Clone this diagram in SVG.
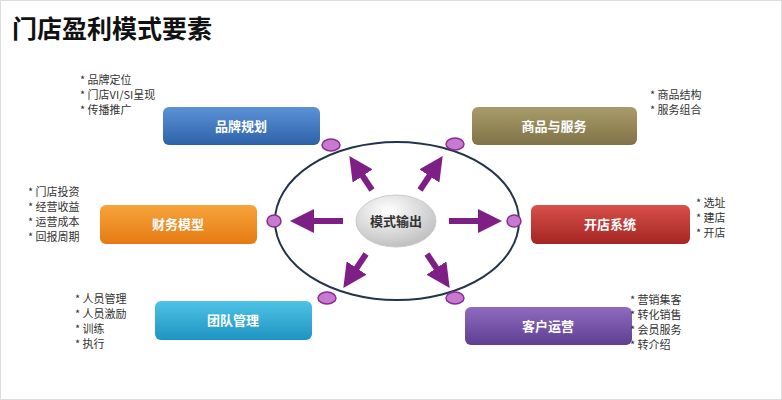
<svg xmlns="http://www.w3.org/2000/svg" width="782" height="400" viewBox="0 0 782 400">
<style>
text{font-family:"Noto Sans CJK SC","Liberation Sans",sans-serif}
.lb{font-size:13px;font-weight:bold;fill:#fff;text-anchor:middle}
.ls{font-size:11px;fill:#333}
.dot{fill:#c77bd0;stroke:#8a2c92;stroke-width:1.5}
.arr{stroke:#7e1f86;stroke-width:6;marker-end:url(#ah)}
</style>
<defs>
<marker id="ah" markerWidth="4" markerHeight="4" refX="2" refY="2" orient="auto"><path d="M0,0L4,2L0,4z" fill="#7e1f86"/></marker>
<linearGradient id="gb" x1="0" y1="0" x2="0" y2="1"><stop offset="0" stop-color="#5b92d6"/><stop offset="1" stop-color="#2e62a8"/></linearGradient>
<linearGradient id="go" x1="0" y1="0" x2="0" y2="1"><stop offset="0" stop-color="#a99c6a"/><stop offset="1" stop-color="#7f7348"/></linearGradient>
<linearGradient id="gor" x1="0" y1="0" x2="0" y2="1"><stop offset="0" stop-color="#f7a43c"/><stop offset="1" stop-color="#e67a12"/></linearGradient>
<linearGradient id="gr" x1="0" y1="0" x2="0" y2="1"><stop offset="0" stop-color="#d8504a"/><stop offset="1" stop-color="#a52522"/></linearGradient>
<linearGradient id="gc" x1="0" y1="0" x2="0" y2="1"><stop offset="0" stop-color="#4fc3e6"/><stop offset="1" stop-color="#1d94c2"/></linearGradient>
<linearGradient id="gp" x1="0" y1="0" x2="0" y2="1"><stop offset="0" stop-color="#8f6bbf"/><stop offset="1" stop-color="#5e3f92"/></linearGradient>
<radialGradient id="gg" cx="0.4" cy="0.3" r="0.8"><stop offset="0" stop-color="#ffffff"/><stop offset="1" stop-color="#b8b8b8"/></radialGradient>
</defs>
<rect x="0.5" y="0.5" width="781" height="399" fill="#fff" stroke="#ddd"/>
<text x="12" y="38" font-size="25" font-weight="bold" fill="#111">门店盈利模式要素</text>
<g id="ring"><ellipse cx="397" cy="221" rx="122" ry="79" fill="none" stroke="#23344a" stroke-width="2"/></g>
<g id="connectors">
<line class="arr" x1="372" y1="190" x2="356" y2="166"/>
<line class="arr" x1="420" y1="190" x2="436" y2="166"/>
<line class="arr" x1="343" y1="221" x2="302" y2="221"/>
<line class="arr" x1="449" y1="221" x2="490" y2="221"/>
<line class="arr" x1="366" y1="254" x2="350" y2="278"/>
<line class="arr" x1="427" y1="254" x2="443" y2="278"/>
</g>
<g id="dots">
<ellipse class="dot" cx="331" cy="145" rx="9" ry="6"/>
<ellipse class="dot" cx="455" cy="144" rx="9" ry="6"/>
<ellipse class="dot" cx="274" cy="221" rx="7" ry="6"/>
<ellipse class="dot" cx="514" cy="221" rx="7" ry="6"/>
<ellipse class="dot" cx="327" cy="298" rx="9" ry="6"/>
<ellipse class="dot" cx="455" cy="298" rx="9" ry="6"/>
</g>
<g id="center"><ellipse cx="396" cy="221" rx="40" ry="26" fill="url(#gg)" stroke="#ccc"/><text x="396" y="226" font-size="13" font-weight="bold" fill="#333" text-anchor="middle">模式输出</text></g>
<g id="brand"><rect x="163" y="107" width="157" height="38" rx="6" fill="url(#gb)"/><text class="lb" x="241" y="131">品牌规划</text>
<text class="ls" x="80" y="84">* 品牌定位</text><text class="ls" x="80" y="99">* 门店VI/SI呈现</text><text class="ls" x="80" y="114">* 传播推广</text></g>
<g id="goods"><rect x="472" y="107" width="165" height="38" rx="6" fill="url(#go)"/><text class="lb" x="554" y="131">商品与服务</text>
<text class="ls" x="650" y="99">* 商品结构</text><text class="ls" x="650" y="114">* 服务组合</text></g>
<g id="finance"><rect x="100" y="205" width="157" height="39" rx="6" fill="url(#gor)"/><text class="lb" x="178" y="229">财务模型</text>
<text class="ls" x="28" y="196">* 门店投资</text><text class="ls" x="28" y="211">* 经营收益</text><text class="ls" x="28" y="226">* 运营成本</text><text class="ls" x="28" y="241">* 回报周期</text></g>
<g id="open"><rect x="531" y="205" width="159" height="39" rx="6" fill="url(#gr)"/><text class="lb" x="610" y="229">开店系统</text>
<text class="ls" x="696" y="207">* 选址</text><text class="ls" x="696" y="222">* 建店</text><text class="ls" x="696" y="237">* 开店</text></g>
<g id="team"><rect x="155" y="301" width="157" height="39" rx="6" fill="url(#gc)"/><text class="lb" x="233" y="325">团队管理</text>
<text class="ls" x="75" y="303">* 人员管理</text><text class="ls" x="75" y="318">* 人员激励</text><text class="ls" x="75" y="333">* 训练</text><text class="ls" x="75" y="348">* 执行</text></g>
<g id="customer"><rect x="465" y="307" width="167" height="38" rx="6" fill="url(#gp)"/><text class="lb" x="548" y="331">客户运营</text>
<text class="ls" x="630" y="304">* 营销集客</text><text class="ls" x="630" y="319">* 转化销售</text><text class="ls" x="630" y="334">* 会员服务</text><text class="ls" x="630" y="349">* 转介绍</text></g>
</svg>
